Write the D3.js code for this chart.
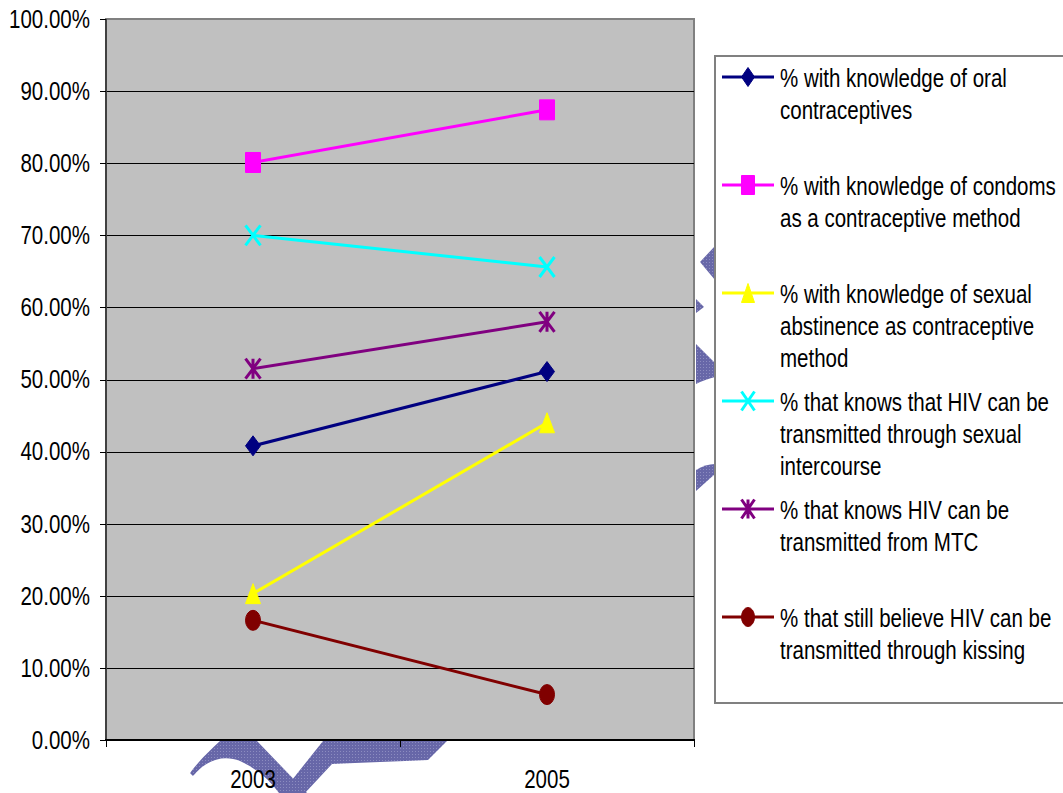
<!DOCTYPE html>
<html>
<head>
<meta charset="utf-8">
<script src="https://cdn.jsdelivr.net/npm/d3@7"></script>
<style>
  html, body { margin: 0; padding: 0; background: #ffffff; }
  svg { display: block; }
  text { font-family: "Liberation Sans", Arial, sans-serif; fill: #000; }
</style>
</head>
<body>
<div id="chart"></div>
<script>
// Survey years on the x axis
const years = ["2003", "2005"];

// Share of respondents per indicator (fractions of 1)
const oralContraceptives = [0.408, 0.511];
const condoms            = [0.801, 0.874];
const abstinence         = [0.203, 0.440];
const hivSexual          = [0.700, 0.656];
const hivMTC             = [0.515, 0.580];
const hivKissing         = [0.166, 0.063];

// Legend wording, one array of lines per series
const labelOral       = ["% with knowledge of oral", "contraceptives"];
const labelCondoms    = ["% with knowledge of condoms", "as a contraceptive method"];
const labelAbstinence = ["% with knowledge of sexual", "abstinence as contraceptive", "method"];
const labelHivSexual  = ["% that knows that HIV can be", "transmitted through sexual", "intercourse"];
const labelHivMTC     = ["% that knows HIV can be", "transmitted from MTC"];
const labelHivKissing = ["% that still believe HIV can be", "transmitted through kissing"];

// Y axis tick values
const yTickValues = [0, 0.1, 0.2, 0.3, 0.4, 0.5, 0.6, 0.7, 0.8, 0.9, 1.0];

const series = [
  { values: oralContraceptives, label: labelOral,       color: "#000080", marker: "diamond" },
  { values: condoms,            label: labelCondoms,    color: "#FF00FF", marker: "square" },
  { values: abstinence,         label: labelAbstinence, color: "#FFFF00", marker: "triangle" },
  { values: hivSexual,          label: labelHivSexual,  color: "#00FFFF", marker: "cross" },
  { values: hivMTC,             label: labelHivMTC,     color: "#800080", marker: "asterisk" },
  { values: hivKissing,         label: labelHivKissing, color: "#800000", marker: "circle" }
];

const W = 1063, H = 793;
const plot = { left: 106, right: 694, top: 19, bottom: 740 };
const squeeze = 0.805;     // narrow type
const fontSize = 25.5;

const svg = d3.select("#chart").append("svg")
  .attr("width", W).attr("height", H);

// dotted fill for the background emblem
const defs = svg.append("defs");
const pat = defs.append("pattern")
  .attr("id", "dots").attr("width", 3).attr("height", 3)
  .attr("patternUnits", "userSpaceOnUse");
pat.append("rect").attr("width", 3).attr("height", 3).attr("fill", "#6767a8");
pat.append("rect").attr("x", 1).attr("y", 1).attr("width", 1).attr("height", 1).attr("fill", "#8c8cc0");

// background emblem fragments peeking around the chart
const emblem = svg.append("g").attr("fill", "url(#dots)");
const emblemShapes = [
  "M190,773 C198,762 210,750 220,741 L257,741 L307,793 L279,793 C268,778 255,768 240,761 C225,755 208,758 193,776 Z",
  "M283,793 L292,780 L323,741 L447,741 L428,760 C400,761 360,763 332,764 L305,793 Z",
  "M715,246 L700,262 L715,280 Z",
  "M696,299 L704,307 L696,313 Z",
  "M696,344 L715,363 L715,377 C708,379 701,381 696,384 Z",
  "M696,470 C702,466 709,464 715,464 L715,474 L696,491 Z"
];
emblem.selectAll("path").data(emblemShapes).join("path").attr("d", d => d);

const x = d3.scaleBand().domain(years).range([plot.left, plot.right]);
const y = d3.scaleLinear().domain([0, 1]).range([plot.bottom, plot.top]);
const cx = d => x(d) + x.bandwidth() / 2;

// plot area
svg.append("rect")
  .attr("x", plot.left).attr("y", plot.top)
  .attr("width", plot.right - plot.left).attr("height", plot.bottom - plot.top)
  .attr("fill", "#C0C0C0").attr("stroke", "#808080").attr("stroke-width", 2);

// gridlines
svg.append("g").selectAll("line")
  .data(yTickValues.filter(v => v > 0 && v < 1)).join("line")
  .attr("x1", plot.left).attr("x2", plot.right)
  .attr("y1", d => Math.round(y(d)) + 0.5).attr("y2", d => Math.round(y(d)) + 0.5)
  .attr("stroke", "#000").attr("stroke-width", 1);

// axes lines
svg.append("line").attr("x1", plot.left).attr("x2", plot.left)
  .attr("y1", plot.top).attr("y2", plot.bottom)
  .attr("stroke", "#404040").attr("stroke-width", 2);
svg.append("line").attr("x1", plot.left - 1).attr("x2", plot.right + 1)
  .attr("y1", plot.bottom).attr("y2", plot.bottom)
  .attr("stroke", "#000").attr("stroke-width", 2);

// y ticks and labels
const fmt = d3.format(".2%");
const yAxis = svg.append("g");
yAxis.selectAll("line").data(yTickValues).join("line")
  .attr("x1", plot.left - 6).attr("x2", plot.left)
  .attr("y1", d => Math.round(y(d)) + 0.5).attr("y2", d => Math.round(y(d)) + 0.5)
  .attr("stroke", "#000");
yAxis.selectAll("text").data(yTickValues).join("text")
  .attr("transform", d => `translate(${plot.left - 16},${y(d) + 8.8}) scale(${squeeze},1)`)
  .attr("text-anchor", "end")
  .style("font-size", fontSize + "px")
  .text(d => fmt(d));

// x ticks at band edges and labels at band centres
const edges = years.map(d => x(d)).concat([x(years[years.length - 1]) + x.bandwidth()]);
svg.append("g").selectAll("line").data(edges).join("line")
  .attr("x1", d => Math.round(d) + 0.5).attr("x2", d => Math.round(d) + 0.5)
  .attr("y1", plot.bottom).attr("y2", plot.bottom + 7)
  .attr("stroke", "#000");
svg.append("g").selectAll("text").data(years).join("text")
  .attr("transform", d => `translate(${cx(d)},${plot.bottom + 48}) scale(${squeeze},1)`)
  .attr("text-anchor", "middle")
  .style("font-size", fontSize + "px")
  .text(d => d);

// marker shapes, centred on 0,0
function markerPath(type, w, h) {
  const a = w / 2, b = h / 2;
  switch (type) {
    case "diamond":  return `M0,${-b} L${a},0 L0,${b} L${-a},0 Z`;
    case "square":   return `M${-a},${-b} H${a} V${b} H${-a} Z`;
    case "triangle": return `M0,${-b} L${a},${b} L${-a},${b} Z`;
    case "cross":    return `M${-a},${-b} L${a},${b} M${a},${-b} L${-a},${b}`;
    case "asterisk": return `M${-a},${-b} L${a},${b} M${a},${-b} L${-a},${b} M0,${-b} L0,${b}`;
    case "circle":   return `M${-a},0 A${a},${b} 0 1,0 ${a},0 A${a},${b} 0 1,0 ${-a},0 Z`;
  }
}
function drawMarker(g, s, px, py, w, h) {
  const open = s.marker === "cross" || s.marker === "asterisk";
  g.append("path")
    .attr("d", markerPath(s.marker, w, h))
    .attr("transform", `translate(${px},${py})`)
    .attr("fill", open ? "none" : s.color)
    .attr("stroke", s.color)
    .attr("stroke-width", open ? 3 : 1)
    .attr("stroke-linejoin", "round");
}

// series lines and markers
const line = d3.line().x((d, i) => cx(years[i])).y(d => y(d));
const lines = svg.append("g");
series.forEach(s => {
  const g = lines.append("g");
  g.append("path").datum(s.values)
    .attr("d", line)
    .attr("fill", "none").attr("stroke", s.color).attr("stroke-width", 3);
  s.values.forEach((v, i) => drawMarker(g, s, cx(years[i]), y(v), 15, 20));
});

// legend
const legend = { left: 715, top: 56, bottom: 703, firstRow: 77, rowStep: 108, lineGap: 32 };
svg.append("rect")
  .attr("x", legend.left).attr("y", legend.top)
  .attr("width", W - legend.left + 10).attr("height", legend.bottom - legend.top)
  .attr("fill", "#fff").attr("stroke", "#808080").attr("stroke-width", 2);

const lg = svg.append("g");
series.forEach((s, i) => {
  const ry = legend.firstRow + i * legend.rowStep;
  const g = lg.append("g");
  g.append("line").attr("x1", 722).attr("x2", 774).attr("y1", ry).attr("y2", ry)
    .attr("stroke", s.color).attr("stroke-width", 3);
  drawMarker(g, s, 748, ry, 13, 19);
  s.label.forEach((t, j) => {
    g.append("text")
      .attr("transform", `translate(780,${ry + 10 + j * legend.lineGap}) scale(${squeeze},1)`)
      .style("font-size", fontSize + "px")
      .text(t);
  });
});
</script>
</body>
</html>
